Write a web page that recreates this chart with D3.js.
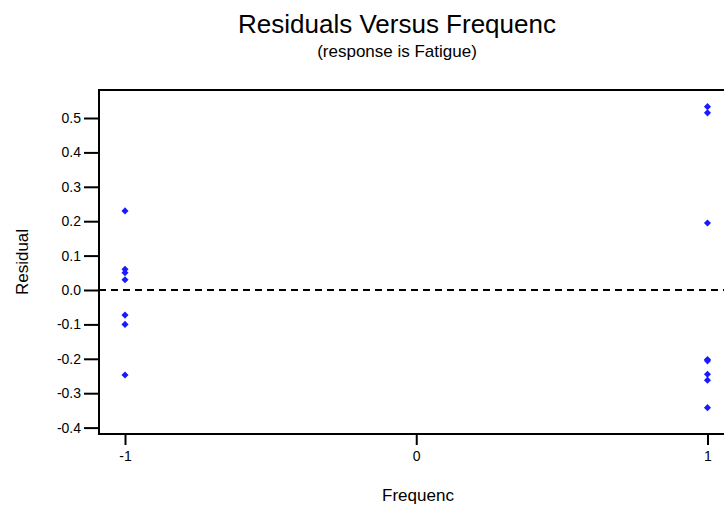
<!DOCTYPE html>
<html lang="en">
<head>
    <meta charset="UTF-8">
    <title>Residuals Versus Frequenc</title>
    <script src="https://cdn.jsdelivr.net/npm/d3@7/dist/d3.min.js"></script>
    <style>
        body{margin: 0; background: #fff}
        svg text{font-family: "Liberation Sans", Arial, sans-serif; fill: #000}
        svg .dot{fill: #1a1aff}
    </style>
</head>
<body>
    <svg></svg>
    <script>
        // residuals at each level of Frequenc
        var lowResiduals = [0.23, 0.06, 0.05, 0.03, -0.073, -0.10, -0.247]
        var highResiduals = [0.533, 0.515, 0.195, -0.202, -0.206, -0.245, -0.262, -0.342]
        var levels = [-1, 1]
        var xTicks = [-1, 0, 1]
        var yTicks = [-0.4, -0.3, -0.2, -0.1, 0, 0.1, 0.2, 0.3, 0.4, 0.5]

        var data = []
        lowResiduals.forEach(v => data.push([levels[0], v]))
        highResiduals.forEach(v => data.push([levels[1], v]))

        var width = 724, height = 510
        var plot = {left: 99, top: 90, right: 724, bottom: 434}

        var svg = d3.select('svg')
            .attr('width', width)
            .attr('height', height)

        // scales
        var xScale = d3.scaleLinear()
            .domain([-1.0893, 1.0567])
            .range([plot.left, plot.right])
        var yScale = d3.scaleLinear()
            .domain([-0.4186, 0.5814])
            .range([plot.bottom, plot.top])

        // axes (plain hyphen for the minus sign)
        var yAxis = d3.axisLeft(yScale)
            .tickValues(yTicks)
            .tickFormat(d => d.toFixed(1))
            .tickSize(15)
            .tickPadding(3)
        var xAxis = d3.axisBottom(xScale)
            .tickValues(xTicks)
            .tickFormat(d => String(d))
            .tickSize(11)
            .tickPadding(6)

        var gy = svg.append('g')
            .attr('transform', `translate(${plot.left}, 0)`)
            .call(yAxis)
        var gx = svg.append('g')
            .attr('transform', `translate(0, ${plot.bottom})`)
            .call(xAxis)

        ;[gx, gy].forEach(g => {
            g.select('.domain').remove()
            g.selectAll('line').attr('stroke', '#000').attr('stroke-width', 2)
            g.selectAll('text').style('font-size', '14px')
                .style('font-family', '"Liberation Sans", Arial, sans-serif')
        })

        // frame: left, top and bottom lines
        svg.append('path')
            .attr('d', `M${plot.right},${plot.top}H${plot.left}V${plot.bottom}H${plot.right}`)
            .attr('fill', 'none')
            .attr('stroke', '#000')
            .attr('stroke-width', 2)

        // reference line at zero
        svg.append('line')
            .attr('x1', plot.left)
            .attr('x2', plot.right)
            .attr('y1', yScale(0))
            .attr('y2', yScale(0))
            .attr('stroke', '#000')
            .attr('stroke-width', 2)
            .attr('stroke-dasharray', '7,5')

        // points
        svg.selectAll('.dot')
            .data(data)
            .enter()
            .append('path')
            .attr('class', 'dot')
            .attr('d', d3.symbol(d3.symbolDiamond2, 32))
            .attr('transform', d => `translate(${xScale(d[0])}, ${yScale(d[1])})`)

        // titles
        svg.append('text')
            .attr('x', 397)
            .attr('y', 33)
            .attr('text-anchor', 'middle')
            .style('font-size', '26px')
            .text('Residuals Versus Frequenc')
        svg.append('text')
            .attr('x', 397)
            .attr('y', 57)
            .attr('text-anchor', 'middle')
            .style('font-size', '17px')
            .text('(response is Fatigue)')
        svg.append('text')
            .attr('x', 418)
            .attr('y', 501)
            .attr('text-anchor', 'middle')
            .style('font-size', '17px')
            .text('Frequenc')
        svg.append('text')
            .attr('transform', 'translate(28, 262) rotate(-90)')
            .attr('text-anchor', 'middle')
            .style('font-size', '17px')
            .text('Residual')
    </script>
</body>
</html>
